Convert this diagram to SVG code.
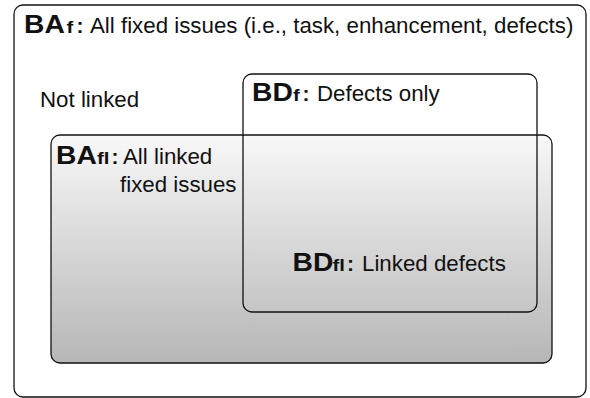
<svg xmlns="http://www.w3.org/2000/svg" width="590" height="398" viewBox="0 0 590 398">
  <style>
    text { font-family: "Liberation Sans", Arial, sans-serif; fill: #111; }
    .big { font-size: 25px; font-weight: bold; }
    .sub { font-size: 17px; font-weight: bold; }
    .col { font-size: 21px; font-weight: bold; }
    .lbl { font-size: 22.3px; }
    .box { fill: none; stroke: #111; stroke-width: 1.3; }
  </style>
  <defs>
    <linearGradient id="linkedFill" x1="0" y1="0" x2="0" y2="1">
      <stop offset="0" stop-color="#f8f8f8"/>
      <stop offset="1" stop-color="#b6b6b6"/>
    </linearGradient>
  </defs>
  <rect width="590" height="398" fill="#fff"/>

  <g id="all-fixed">
    <rect class="box" x="14" y="5" width="572" height="392" rx="9"/>
    <text class="big" transform="translate(24,33) scale(1.13,1)">BA</text>
    <text class="sub" transform="translate(66.5,33) scale(1.2,1)">f</text>
    <text class="col" x="76.5" y="33">:</text>
    <text class="lbl" x="90" y="33">All fixed issues (i.e., task, enhancement, defects)</text>
    <text class="lbl" x="40" y="107">Not linked</text>
  </g>

  <g id="all-linked">
    <rect x="51" y="135" width="501" height="228" rx="9" fill="url(#linkedFill)" stroke="#111" stroke-width="1.3"/>
    <text class="big" transform="translate(56,164) scale(1.13,1)">BA</text>
    <text class="sub" transform="translate(97,164) scale(1.2,1)">fl</text>
    <text class="col" x="111.5" y="164">:</text>
    <text class="lbl" x="123" y="164">All linked</text>
    <text class="lbl" x="120" y="192">fixed issues</text>
  </g>

  <g id="defects">
    <rect class="box" x="243" y="74" width="294" height="238" rx="9"/>
    <text class="big" transform="translate(252,101) scale(1.13,1)">BD</text>
    <text class="sub" transform="translate(293,101) scale(1.2,1)">f</text>
    <text class="col" x="302.5" y="101">:</text>
    <text class="lbl" x="317" y="101">Defects only</text>
    <text class="big" transform="translate(292.5,271) scale(1.13,1)">BD</text>
    <text class="sub" transform="translate(332.5,271) scale(1.2,1)">fl</text>
    <text class="col" x="347" y="271">:</text>
    <text class="lbl" x="362" y="271">Linked defects</text>
  </g>
</svg>
